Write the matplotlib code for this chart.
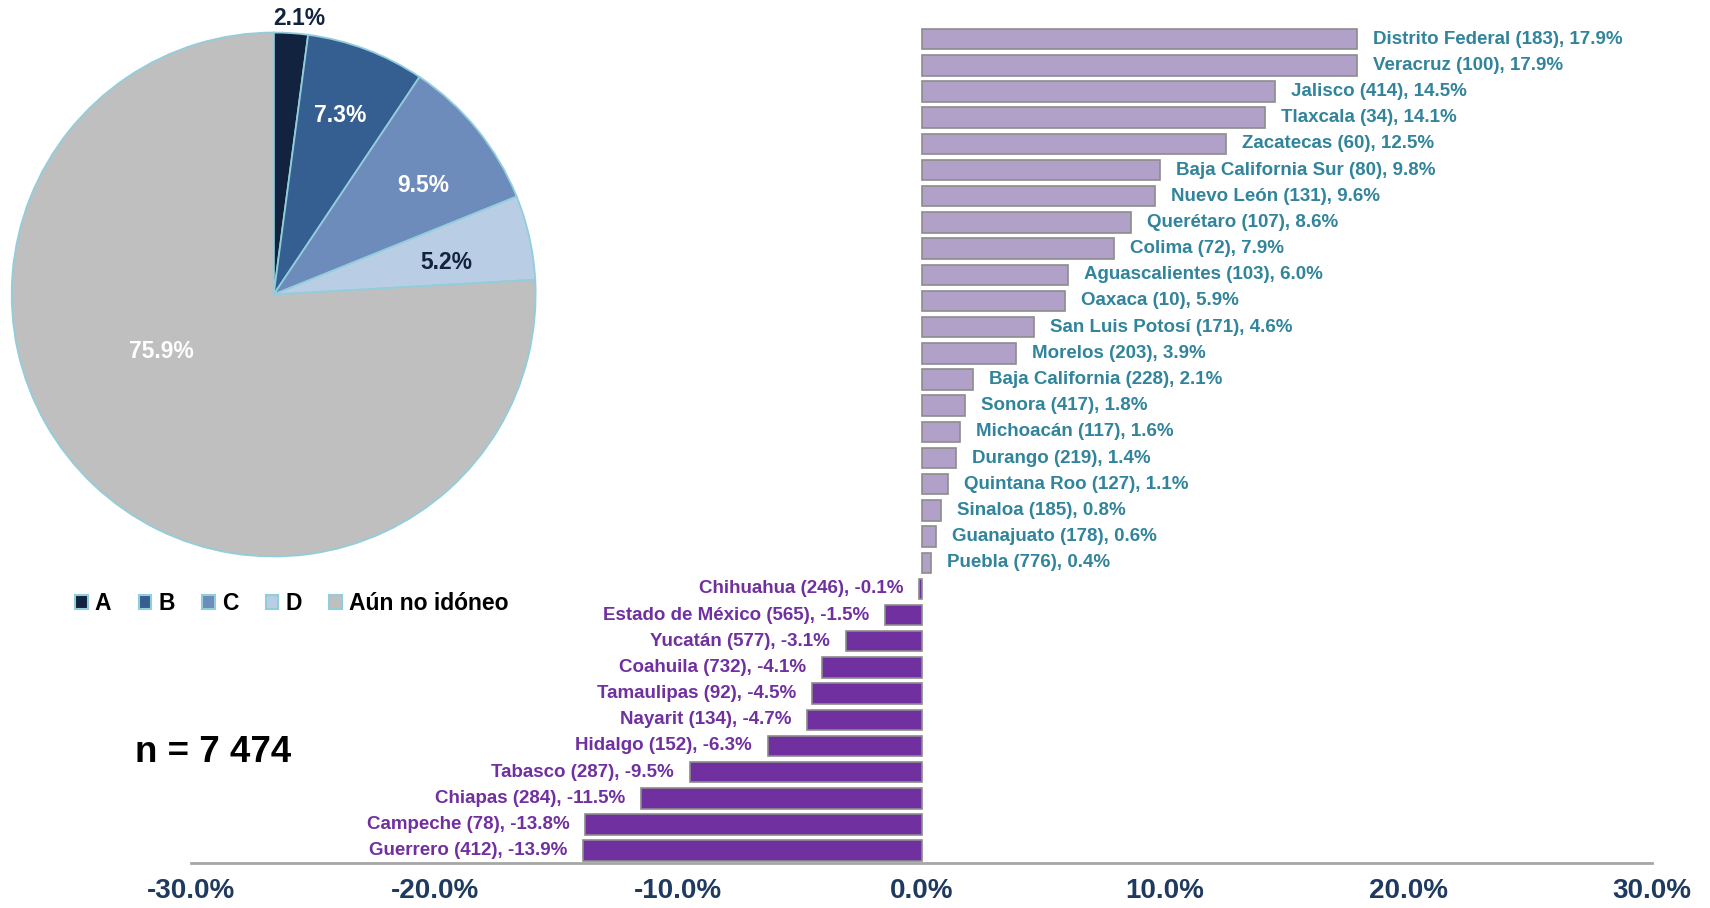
import matplotlib
matplotlib.use("Agg")
import matplotlib.pyplot as plt
from matplotlib.patches import Patch

plt.rcParams['font.family'] = ['Liberation Sans', 'DejaVu Sans']
plt.rcParams['font.weight'] = 'bold'

# pie data
pie_labels = ['A', 'B', 'C', 'D', 'Aún no idóneo']
pie_values = [2.1, 7.3, 9.5, 5.2, 75.9]
pie_colors = ['#12233F', '#365F91', '#6D8BBB', '#B9CDE5', '#BFBFBF']
pie_text_colors = ['#12233F', 'white', 'white', '#12233F', 'white']
pie_text_pos = [(0.097, 1.053), (0.254, 0.683), (0.571, 0.416), (0.658, 0.121), (-0.429, -0.216)]

# bar data, top to bottom
states = ['Distrito Federal', 'Veracruz', 'Jalisco', 'Tlaxcala', 'Zacatecas',
          'Baja California Sur', 'Nuevo León', 'Querétaro', 'Colima', 'Aguascalientes',
          'Oaxaca', 'San Luis Potosí', 'Morelos', 'Baja California', 'Sonora',
          'Michoacán', 'Durango', 'Quintana Roo', 'Sinaloa', 'Guanajuato', 'Puebla',
          'Chihuahua', 'Estado de México', 'Yucatán', 'Coahuila', 'Tamaulipas',
          'Nayarit', 'Hidalgo', 'Tabasco', 'Chiapas', 'Campeche', 'Guerrero']
counts = [183, 100, 414, 34, 60, 80, 131, 107, 72, 103, 10, 171, 203, 228, 417,
          117, 219, 127, 185, 178, 776, 246, 565, 577, 732, 92, 134, 152, 287, 284, 78, 412]
changes = [17.9, 17.9, 14.5, 14.1, 12.5, 9.8, 9.6, 8.6, 7.9, 6.0, 5.9, 4.6, 3.9, 2.1,
           1.8, 1.6, 1.4, 1.1, 0.8, 0.6, 0.4, -0.1, -1.5, -3.1, -4.1, -4.5, -4.7,
           -6.3, -9.5, -11.5, -13.8, -13.9]
xticks = [-30, -20, -10, 0, 10, 20, 30]

pos_color = '#B1A0C7'
neg_color = '#7030A0'
pos_text = '#31849B'
neg_text = '#7030A0'
edge_blue = '#92CDDC'

fig = plt.figure(figsize=(17.1, 9.08), dpi=100)

# --- bar chart ---
ax = fig.add_axes([0.1117, 0.05, 0.8544, 0.9357])
ypos = list(range(len(states)))
colors = [pos_color if v >= 0 else neg_color for v in changes]
ax.barh(ypos, changes, height=0.78, color=colors, edgecolor='#8C8C8C', linewidth=1.2)
for y, name, n, v in zip(ypos, states, counts, changes):
    txt = f'{name} ({n}), {v:.1f}%'
    if v >= 0:
        ax.annotate(txt, (v, y), xytext=(16, 0), textcoords='offset pixels',
                    ha='left', va='center', color=pos_text, fontsize=13.5)
    else:
        ax.annotate(txt, (v, y), xytext=(-16, 0), textcoords='offset pixels',
                    ha='right', va='center', color=neg_text, fontsize=13.5)
ax.set_xlim(-30, 30)
ax.set_ylim(31.455, -1)
ax.set_xticks(xticks)
ax.set_xticklabels([f'{t:.1f}%' for t in xticks], color='#1F3A5F', fontsize=20,
                   fontweight='bold')
ax.tick_params(axis='x', length=0, pad=11)
ax.set_yticks([])
for s in ['top', 'left', 'right']:
    ax.spines[s].set_visible(False)
ax.spines['bottom'].set_color('#A6A6A6')
ax.spines['bottom'].set_linewidth(2)
ax.patch.set_alpha(0)

# --- pie chart ---
pax = fig.add_axes([0.00684, 0.3871, 0.3064, 0.5771])
pax.pie(pie_values, colors=pie_colors, startangle=90, counterclock=False,
        wedgeprops=dict(edgecolor=edge_blue, linewidth=1.3))
for (px, py), v, c in zip(pie_text_pos, pie_values, pie_text_colors):
    pax.text(px, py, f'{v:.1f}%', ha='center', va='center', color=c, fontsize=16.5)
pax.set_xlim(-1, 1)
pax.set_ylim(-1, 1)

handles = [Patch(facecolor=c, edgecolor=edge_blue, linewidth=1.5) for c in pie_colors]
fig.legend(handles, pie_labels, loc='center left', bbox_to_anchor=(0.044, 1 - 604 / 908),
           ncol=5, frameon=False, fontsize=16.5, handlelength=0.55, handleheight=0.55,
           handletextpad=0.3, columnspacing=1.2, borderpad=0, borderaxespad=0)

fig.text(213 / 1710, 1 - 752 / 908, 'n = 7 474', ha='center', va='center',
         fontsize=26.5, color='black')

fig.savefig('out.png', dpi=100)
